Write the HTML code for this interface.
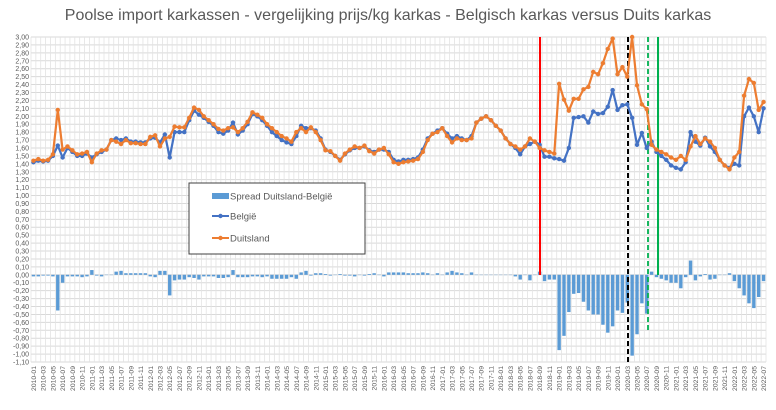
<!DOCTYPE html>
<html><head><meta charset="utf-8"><style>
html,body{margin:0;padding:0;background:#fff;}
svg{display:block;font-family:"Liberation Sans",sans-serif;}
.yl{font-size:7px;fill:#595959;text-anchor:end;}
.xl{font-size:6.8px;fill:#595959;text-anchor:end;}
</style></head><body>
<svg id="s" width="776" height="410" viewBox="0 0 776 410">
<rect width="776" height="410" fill="#fff"/>
<text x="388" y="20" text-anchor="middle" font-size="16" fill="#595959">Poolse import karkassen - vergelijking prijs/kg karkas - Belgisch karkas versus Duits karkas</text>
<g id="grid"></g><g id="bars"></g><g id="vl"></g><g id="lines"></g>
<g id="ylab">
<text class="yl">3,00</text><text class="yl">2,90</text><text class="yl">2,80</text><text class="yl">2,70</text><text class="yl">2,60</text><text class="yl">2,50</text><text class="yl">2,40</text><text class="yl">2,30</text><text class="yl">2,20</text><text class="yl">2,10</text><text class="yl">2,00</text><text class="yl">1,90</text><text class="yl">1,80</text><text class="yl">1,70</text><text class="yl">1,60</text><text class="yl">1,50</text><text class="yl">1,40</text><text class="yl">1,30</text><text class="yl">1,20</text><text class="yl">1,10</text><text class="yl">1,00</text><text class="yl">0,90</text><text class="yl">0,80</text><text class="yl">0,70</text><text class="yl">0,60</text><text class="yl">0,50</text><text class="yl">0,40</text><text class="yl">0,30</text><text class="yl">0,20</text><text class="yl">0,10</text><text class="yl">0,00</text><text class="yl">-0,10</text><text class="yl">-0,20</text><text class="yl">-0,30</text><text class="yl">-0,40</text><text class="yl">-0,50</text><text class="yl">-0,60</text><text class="yl">-0,70</text><text class="yl">-0,80</text><text class="yl">-0,90</text><text class="yl">-1,00</text><text class="yl">-1,10</text>
</g>
<g id="xlab">
<text class="xl">2010-01</text><text class="xl">2010-03</text><text class="xl">2010-05</text><text class="xl">2010-07</text><text class="xl">2010-09</text><text class="xl">2010-11</text>
<text class="xl">2011-01</text><text class="xl">2011-03</text><text class="xl">2011-05</text><text class="xl">2011-07</text><text class="xl">2011-09</text><text class="xl">2011-11</text>
<text class="xl">2012-01</text><text class="xl">2012-03</text><text class="xl">2012-05</text><text class="xl">2012-07</text><text class="xl">2012-09</text><text class="xl">2012-11</text>
<text class="xl">2013-01</text><text class="xl">2013-03</text><text class="xl">2013-05</text><text class="xl">2013-07</text><text class="xl">2013-09</text><text class="xl">2013-11</text>
<text class="xl">2014-01</text><text class="xl">2014-03</text><text class="xl">2014-05</text><text class="xl">2014-07</text><text class="xl">2014-09</text><text class="xl">2014-11</text>
<text class="xl">2015-01</text><text class="xl">2015-03</text><text class="xl">2015-05</text><text class="xl">2015-07</text><text class="xl">2015-09</text><text class="xl">2015-11</text>
<text class="xl">2016-01</text><text class="xl">2016-03</text><text class="xl">2016-05</text><text class="xl">2016-07</text><text class="xl">2016-09</text><text class="xl">2016-11</text>
<text class="xl">2017-01</text><text class="xl">2017-03</text><text class="xl">2017-05</text><text class="xl">2017-07</text><text class="xl">2017-09</text><text class="xl">2017-11</text>
<text class="xl">2018-01</text><text class="xl">2018-03</text><text class="xl">2018-05</text><text class="xl">2018-07</text><text class="xl">2018-09</text><text class="xl">2018-11</text>
<text class="xl">2019-01</text><text class="xl">2019-03</text><text class="xl">2019-05</text><text class="xl">2019-07</text><text class="xl">2019-09</text><text class="xl">2019-11</text>
<text class="xl">2020-01</text><text class="xl">2020-03</text><text class="xl">2020-05</text><text class="xl">2020-07</text><text class="xl">2020-09</text><text class="xl">2020-11</text>
<text class="xl">2021-01</text><text class="xl">2021-03</text><text class="xl">2021-05</text><text class="xl">2021-07</text><text class="xl">2021-09</text><text class="xl">2021-11</text>
<text class="xl">2022-01</text><text class="xl">2022-03</text><text class="xl">2022-05</text><text class="xl">2022-07</text>
</g>
<rect x="189" y="183" width="176" height="71" fill="#fff" stroke="#404040" stroke-width="1"/>
<rect x="212" y="193" width="17" height="6" fill="#5B9BD5"/>
<text x="230" y="199.5" font-size="9.5" fill="#595959">Spread Duitsland-België</text>
<line x1="212" y1="216" x2="229" y2="216" stroke="#4472C4" stroke-width="2"/><circle cx="220.5" cy="216" r="2.2" fill="#4472C4"/>
<text x="230" y="219.5" font-size="9.5" fill="#595959">België</text>
<line x1="212" y1="238" x2="229" y2="238" stroke="#ED7D31" stroke-width="2"/><circle cx="220.5" cy="238" r="2.2" fill="#ED7D31"/>
<text x="230" y="241.5" font-size="9.5" fill="#595959">Duitsland</text>
</svg>
<script>
var L=31,R=766,T=37,N=151,dx=(R-L)/N,sc=(362-37)/4.1;
function X(i){return L+dx*(i+0.5);}function Y(v){return T+(3-v)*sc;}
var B=[1.42,1.44,1.43,1.44,1.50,1.63,1.48,1.60,1.55,1.50,1.50,1.53,
1.48,1.52,1.55,1.58,1.70,1.72,1.70,1.72,1.68,1.68,1.67,1.67,
1.72,1.73,1.67,1.77,1.48,1.80,1.80,1.80,1.95,2.07,2.02,1.98,
1.93,1.88,1.80,1.78,1.82,1.92,1.77,1.82,1.90,2.03,2.00,1.95,
1.88,1.80,1.75,1.70,1.67,1.65,1.75,1.88,1.85,1.85,1.82,1.72,
1.58,1.55,1.50,1.45,1.52,1.57,1.60,1.60,1.62,1.57,1.55,1.58,
1.58,1.55,1.45,1.43,1.45,1.45,1.46,1.48,1.58,1.72,1.78,1.82,
1.85,1.78,1.72,1.75,1.72,1.70,1.75,1.92,1.97,2.00,1.95,1.88,
1.82,1.72,1.65,1.60,1.52,1.62,1.65,1.68,
1.64,1.49,1.49,1.47,1.46,1.44,1.60,1.98,1.99,2.00,1.92,2.06,2.03,2.04,2.12,2.33,2.08,2.14,2.15,1.98,1.64,1.79,1.60,1.68,
1.55,1.50,1.45,1.38,1.35,1.33,1.42,1.80,1.68,1.63,1.73,1.62,1.55,1.45,1.38,1.35,1.40,1.38,
2.00,2.11,2.00,1.80,2.10];
var D=[1.44,1.46,1.44,1.45,1.52,2.08,1.58,1.62,1.57,1.52,1.53,1.55,
1.42,1.53,1.57,1.58,1.70,1.68,1.65,1.70,1.66,1.66,1.65,1.65,
1.74,1.76,1.62,1.72,1.74,1.87,1.86,1.86,1.98,2.11,2.08,2.00,
1.95,1.90,1.84,1.82,1.85,1.86,1.80,1.85,1.93,2.05,2.02,1.98,
1.90,1.85,1.80,1.75,1.72,1.68,1.80,1.85,1.80,1.86,1.80,1.70,
1.57,1.56,1.50,1.44,1.53,1.58,1.62,1.60,1.63,1.56,1.53,1.58,
1.60,1.52,1.42,1.40,1.42,1.43,1.44,1.46,1.55,1.70,1.78,1.80,
1.85,1.75,1.67,1.72,1.70,1.70,1.72,1.92,1.97,2.00,1.95,1.88,
1.82,1.72,1.65,1.62,1.58,1.62,1.72,1.68,
1.60,1.57,1.55,1.53,2.41,2.21,2.07,2.22,2.22,2.34,2.37,2.56,2.53,2.67,2.85,2.98,2.53,2.62,2.50,3.00,2.39,2.15,2.09,1.64,
1.58,1.55,1.52,1.48,1.45,1.50,1.45,1.62,1.75,1.65,1.72,1.68,1.60,1.45,1.38,1.33,1.48,1.55,
2.26,2.47,2.42,2.08,2.18];
var ns="http://www.w3.org/2000/svg";
function el(p,t,a){var e=document.createElementNS(ns,t);for(var k in a)e.setAttribute(k,a[k]);p.appendChild(e);return e;}
var g=document.getElementById('grid');
for(var k=0;k<=41;k++){var y=T+k*(362-T)/41;el(g,'line',{x1:L,x2:R,y1:y,y2:y,stroke:'#d9d9d9','stroke-width':1});}
for(var i=0;i<=N;i++){var x=L+dx*i;el(g,'line',{x1:x,x2:x,y1:T,y2:362,stroke:'#e3e3e3','stroke-width':0.8});}
var yl=document.querySelectorAll('.yl');yl.forEach(function(t,k){t.setAttribute('x',29);t.setAttribute('y',T+k*(362-T)/41+2.5);});
var xl=document.querySelectorAll('.xl');xl.forEach(function(t,k){t.setAttribute('transform','translate('+(X(2*k)+2.5)+',366) rotate(-90)');});
var bg=document.getElementById('bars'),z=Y(0);
for(var i=0;i<N;i++){var s=B[i]-D[i];var y=Y(Math.max(s,0)),h=Math.abs(Y(s)-z);el(bg,'rect',{x:X(i)-1.7,y:y,width:3.4,height:Math.max(h,0.3),fill:'#5B9BD5'});}
var v=document.getElementById('vl');
el(v,'line',{x1:540,x2:540,y1:T,y2:275,stroke:'#FF0000','stroke-width':2});
el(v,'line',{x1:628,x2:628,y1:T,y2:362,stroke:'#000','stroke-width':2,'stroke-dasharray':'5,3'});
el(v,'line',{x1:648,x2:648,y1:T,y2:330,stroke:'#00B050','stroke-width':1.8,'stroke-dasharray':'5,3'});
el(v,'line',{x1:658,x2:658,y1:T,y2:275,stroke:'#00B050','stroke-width':2});
var lg=document.getElementById('lines');
[[B,'#4472C4'],[D,'#ED7D31']].forEach(function(p){var d='';p[0].forEach(function(v,i){d+=(i?'L':'M')+X(i).toFixed(1)+','+Y(v).toFixed(1);});
el(lg,'path',{d:d,fill:'none',stroke:p[1],'stroke-width':2.2,'stroke-linejoin':'round'});
p[0].forEach(function(v,i){el(lg,'circle',{cx:X(i),cy:Y(v),r:2.2,fill:p[1]});});});
</script>
</body></html>
